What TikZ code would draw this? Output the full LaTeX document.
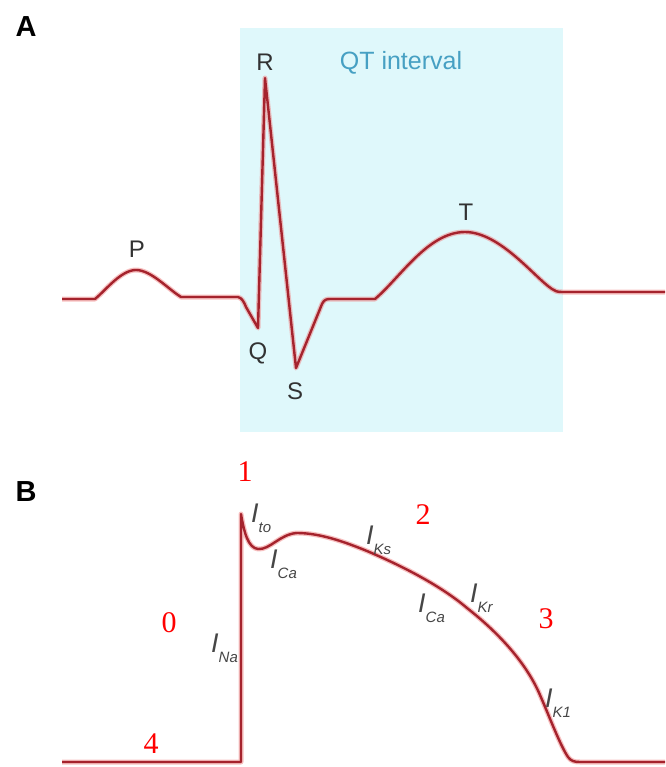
\documentclass[tikz,border=0pt]{standalone}
\usepackage{fontspec}
\setmainfont{Liberation Sans}
\newfontfamily\numfont{Liberation Serif}
\definecolor{qtbg}{RGB}{223,248,251}
\definecolor{qttext}{RGB}{70,160,195}
\definecolor{tracecol}{RGB}{165,35,45}
\definecolor{glowcol}{RGB}{240,140,140}
\definecolor{labgray}{RGB}{50,50,50}
\tikzset{
 glow/.style={draw=glowcol, line width=5pt, line join=round, opacity=0.55},
 core/.style={draw=tracecol, line width=2.4pt, line join=round, preaction={glow}},
 wavelab/.style={font=\fontsize{24}{24}\selectfont, text=labgray, inner sep=0},
 panellab/.style={font=\fontsize{29}{29}\selectfont\bfseries, inner sep=0},
 phaselab/.style={font=\numfont\fontsize{30}{30}\selectfont, text=red, inner sep=0},
 curlab/.style={text=labgray!90!white, inner sep=0, anchor=base west},
}
\newcommand\curtxt[1]{{\fontsize{27}{27}\selectfont\itshape I}\raisebox{-10pt}{\fontsize{15}{15}\selectfont\itshape #1}}
\begin{document}
\begin{tikzpicture}[x=1pt,y=-1pt]
\useasboundingbox (0,0) rectangle (665,767);
% panel A
\fill[qtbg] (240,28) rectangle (563,432);
\node[panellab] (A) at (26,27) {A};
\node[font=\fontsize{25}{25}\selectfont, text=qttext, inner sep=0] (qt) at (401,63) {QT interval};
\draw[core] (62,299) -- (95,299)
  .. controls (106,290) and (121,270) .. (136,270)
  .. controls (151,270) and (168,289) .. (181,297)
  -- (238,297) .. controls (242,298) and (244,302) .. (246,307)
  -- (258,328) -- (265,78) -- (296,368) -- (322,304)
  .. controls (324,300) and (326,299) .. (330,299)
  -- (375,299)
  .. controls (400,278) and (428,232) .. (465,232)
  .. controls (500,232) and (535,278) .. (552,289)
  .. controls (555,291) and (557,292) .. (562,292)
  -- (665,292);
\node[wavelab] (P) at (137,249) {P};
\node[wavelab] (Q) at (258,353) {Q};
\node[wavelab] (R) at (265,62) {R};
\node[wavelab] (S) at (295,391) {S};
\node[wavelab] (T) at (466,212) {T};
% panel B
\node[panellab] (B) at (26,492) {B};
\draw[core] (62,762) -- (241,762) -- (241,514)
  .. controls (244,532) and (248,548) .. (258,549)
  .. controls (270,550) and (280,534) .. (297,533)
  .. controls (320,533) and (345,542) .. (367,551)
  .. controls (400,565) and (440,585) .. (467,608)
  .. controls (495,630) and (525,660) .. (540,695)
  .. controls (550,718) and (560,745) .. (568,757)
  .. controls (571,761) and (574,762) .. (580,762)
  -- (665,762);
\node[phaselab] (p0) at (169,623) {0};
\node[phaselab] (p1) at (245,472) {1};
\node[phaselab] (p2) at (423,515) {2};
\node[phaselab] (p3) at (546,619) {3};
\node[phaselab] (p4) at (151,744) {4};
\node[curlab] (ina) at (211,652) {\curtxt{Na}};
\node[curlab] (ito) at (251,522) {\curtxt{to}};
\node[curlab] (ica1) at (270,568) {\curtxt{Ca}};
\node[curlab] (iks) at (366,544) {\curtxt{Ks}};
\node[curlab] (ica2) at (418,612) {\curtxt{Ca}};
\node[curlab] (ikr) at (470,602) {\curtxt{Kr}};
\node[curlab] (ik1) at (545,707) {\curtxt{K1}};
\end{tikzpicture}
\end{document}
